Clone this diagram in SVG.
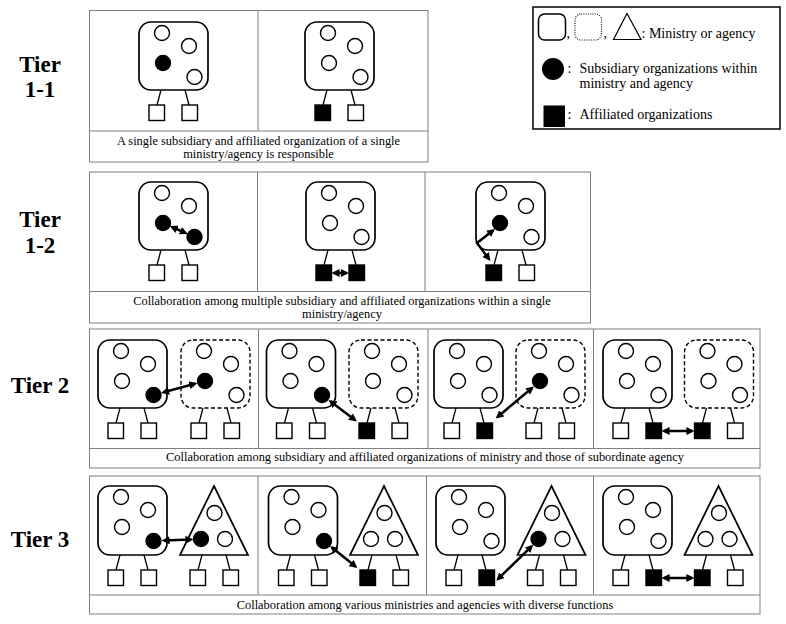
<svg xmlns="http://www.w3.org/2000/svg" width="786" height="624" viewBox="0 0 786 624">
<style>
.frame{fill:none;stroke:#808080;stroke-width:1}
.box{fill:#fff;stroke:#000;stroke-width:1.7}
.dbox{fill:#fff;stroke:#000;stroke-width:1.4;stroke-dasharray:4 2.5}
.tri{fill:#fff;stroke:#000;stroke-width:1.7;stroke-linejoin:miter}
.c{fill:#fff;stroke:#000;stroke-width:1.4}
.f{fill:#000;stroke:#000;stroke-width:1.4}
.sq{fill:#fff;stroke:#000;stroke-width:1.4}
.sqf{fill:#000;stroke:#000;stroke-width:1.4}
.leg{fill:none;stroke:#000;stroke-width:1.3}
.arr{fill:none;stroke:#000;stroke-width:2.5;marker-start:url(#ah);marker-end:url(#ah)}
text{font-family:"Liberation Serif","Times New Roman",serif;fill:#000}
.cap{font-size:12.4px;text-anchor:middle}
.tier{font-size:23px;font-weight:bold;text-anchor:middle}
.lg{font-size:14px}
</style>
<defs>
<marker id="ah" viewBox="0 0 10 10" refX="7" refY="5" markerWidth="8" markerHeight="8" markerUnits="userSpaceOnUse" orient="auto-start-reverse">
<path d="M0,0 L10,5 L0,10 z" fill="#000"/>
</marker>
</defs>
<rect width="786" height="624" fill="#fff"/>

<g id="tier-labels">
<text class="tier" x="40" y="72">Tier</text>
<text class="tier" x="40" y="97">1-1</text>
<text class="tier" x="40" y="227">Tier</text>
<text class="tier" x="40" y="253">1-2</text>
<text class="tier" x="40" y="393">Tier 2</text>
<text class="tier" x="40" y="547">Tier 3</text>
</g>

<g id="frames">
<rect class="frame" x="89.5" y="10.5" width="338.5" height="151.5"/>
<path class="frame" d="M258,10.5 V131 M89.5,131 H428"/>
<rect class="frame" x="89.5" y="172" width="501" height="151"/>
<path class="frame" d="M257.5,172 V291.5 M425,172 V291.5 M89.5,291.5 H590.5"/>
<rect class="frame" x="89.5" y="329" width="670.5" height="139"/>
<path class="frame" d="M258.5,329 V448.5 M428,329 V448.5 M593.5,329 V448.5 M89.5,448.5 H760"/>
<rect class="frame" x="89.5" y="476" width="670.5" height="138"/>
<path class="frame" d="M258,476 V595 M426.5,476 V595 M593.5,476 V595 M89.5,595 H760"/>
</g>

<g id="captions">
<text class="cap" x="258.5" y="145">A single subsidiary and affiliated organization of a single</text>
<text class="cap" x="258.5" y="158">ministry/agency is responsible</text>
<text class="cap" x="342" y="304.5">Collaboration among multiple subsidiary and affiliated organizations within a single</text>
<text class="cap" x="342" y="317.5">ministry/agency</text>
<text class="cap" x="425" y="461">Collaboration among subsidiary and affiliated organizations of ministry and those of subordinate agency</text>
<text class="cap" x="425" y="608.5">Collaboration among various ministries and agencies with diverse functions</text>
</g>

<g id="legend">
<rect x="533" y="7" width="247" height="122" fill="#fff" stroke="#000" stroke-width="1.5"/>
<rect x="538.5" y="14" width="27" height="26" rx="6" fill="#fff" stroke="#000" stroke-width="1.5"/>
<text class="lg" x="566.5" y="38">,</text>
<rect x="575" y="14" width="26.5" height="26" rx="6" fill="#fff" stroke="#000" stroke-width="1.1" stroke-dasharray="1 1.3"/>
<text class="lg" x="603.5" y="38">,</text>
<polygon points="627,13.5 641,39.5 613.5,39.5" fill="#fff" stroke="#000" stroke-width="1.2"/>
<text class="lg" x="641.5" y="37.5">: Ministry or agency</text>
<circle cx="553" cy="69" r="11" fill="#000"/>
<text class="lg" x="567.5" y="73">:</text>
<text class="lg" x="579.5" y="73">Subsidiary organizations within</text>
<text class="lg" x="579.5" y="88">ministry and agency</text>
<rect x="543.5" y="105.5" width="21.5" height="21.5" fill="#000"/>
<text class="lg" x="567.5" y="119">:</text>
<text class="lg" x="579.5" y="119">Affiliated organizations</text>
</g>

<!-- Tier 1-1 -->
<g id="t11-p1-ministry">
<rect class="box" x="139" y="22" width="69" height="68" rx="12"/>
<circle class="c" cx="162" cy="33" r="7.5"/><circle class="c" cx="189" cy="46" r="7.5"/>
<circle class="f" cx="163" cy="63" r="7.5"/><circle class="c" cx="194.5" cy="77" r="7.5"/>
<rect class="sq" x="149" y="105" width="15.5" height="15.5"/><rect class="sq" x="182" y="105" width="15.5" height="15.5"/>
</g>
<g id="t11-p2-ministry">
<rect class="box" x="305" y="22" width="69" height="68" rx="12"/>
<circle class="c" cx="328" cy="33" r="7.5"/><circle class="c" cx="355" cy="46" r="7.5"/>
<circle class="c" cx="329" cy="63" r="7.5"/><circle class="c" cx="360.5" cy="77" r="7.5"/>
<rect class="sqf" x="315" y="105" width="15.5" height="15.5"/><rect class="sq" x="348" y="105" width="15.5" height="15.5"/>
</g>

<!-- Tier 1-2 -->
<g id="t12-p1-ministry">
<rect class="box" x="139" y="182" width="69" height="68" rx="12"/>
<circle class="c" cx="162" cy="193" r="7.5"/><circle class="c" cx="189" cy="206" r="7.5"/>
<circle class="f" cx="163" cy="223" r="7.5"/><circle class="f" cx="194.5" cy="237" r="7.5"/>
<rect class="sq" x="149" y="265" width="15.5" height="15.5"/><rect class="sq" x="182" y="265" width="15.5" height="15.5"/>
</g>
<g id="t12-p2-ministry">
<rect class="box" x="306" y="182" width="69" height="68" rx="12"/>
<circle class="c" cx="329" cy="193" r="7.5"/><circle class="c" cx="356" cy="206" r="7.5"/>
<circle class="c" cx="330" cy="223" r="7.5"/><circle class="c" cx="361.5" cy="237" r="7.5"/>
<rect class="sqf" x="316" y="265" width="15.5" height="15.5"/><rect class="sqf" x="349" y="265" width="15.5" height="15.5"/>
</g>
<g id="t12-p3-ministry">
<rect class="box" x="476" y="182" width="69" height="68" rx="12"/>
<circle class="c" cx="499" cy="193" r="7.5"/><circle class="c" cx="526" cy="206" r="7.5"/>
<circle class="f" cx="500" cy="223" r="7.5"/><circle class="c" cx="531.5" cy="237" r="7.5"/>
<rect class="sqf" x="486" y="265" width="15.5" height="15.5"/><rect class="sq" x="519" y="265" width="15.5" height="15.5"/>
</g>

<!-- Tier 2 -->
<g id="t2-p1-ministry">
<rect class="box" x="98" y="340" width="69" height="68" rx="12"/>
<circle class="c" cx="121" cy="351" r="7.5"/><circle class="c" cx="148" cy="364" r="7.5"/>
<circle class="c" cx="122" cy="381" r="7.5"/><circle class="f" cx="153.5" cy="395" r="7.5"/>
<rect class="sq" x="108" y="423" width="15.5" height="15.5"/><rect class="sq" x="141" y="423" width="15.5" height="15.5"/>
</g>
<g id="t2-p1-agency">
<rect class="dbox" x="181" y="340" width="69" height="68" rx="12"/>
<circle class="c" cx="204" cy="351" r="7.5"/><circle class="c" cx="231" cy="364" r="7.5"/>
<circle class="f" cx="205" cy="381" r="7.5"/><circle class="c" cx="236.5" cy="395" r="7.5"/>
<rect class="sq" x="191" y="423" width="15.5" height="15.5"/><rect class="sq" x="224" y="423" width="15.5" height="15.5"/>
</g>
<g id="t2-p2-ministry">
<rect class="box" x="266.5" y="340" width="69" height="68" rx="12"/>
<circle class="c" cx="289.5" cy="351" r="7.5"/><circle class="c" cx="316.5" cy="364" r="7.5"/>
<circle class="c" cx="290.5" cy="381" r="7.5"/><circle class="f" cx="322" cy="395" r="7.5"/>
<rect class="sq" x="276.5" y="423" width="15.5" height="15.5"/><rect class="sq" x="309.5" y="423" width="15.5" height="15.5"/>
</g>
<g id="t2-p2-agency">
<rect class="dbox" x="349" y="340" width="69" height="68" rx="12"/>
<circle class="c" cx="372" cy="351" r="7.5"/><circle class="c" cx="399" cy="364" r="7.5"/>
<circle class="c" cx="373" cy="381" r="7.5"/><circle class="c" cx="404.5" cy="395" r="7.5"/>
<rect class="sqf" x="359" y="423" width="15.5" height="15.5"/><rect class="sq" x="392" y="423" width="15.5" height="15.5"/>
</g>
<g id="t2-p3-ministry">
<rect class="box" x="434" y="340" width="69" height="68" rx="12"/>
<circle class="c" cx="457" cy="351" r="7.5"/><circle class="c" cx="484" cy="364" r="7.5"/>
<circle class="c" cx="458" cy="381" r="7.5"/><circle class="c" cx="489.5" cy="395" r="7.5"/>
<rect class="sq" x="444" y="423" width="15.5" height="15.5"/><rect class="sqf" x="477" y="423" width="15.5" height="15.5"/>
</g>
<g id="t2-p3-agency">
<rect class="dbox" x="516" y="340" width="69" height="68" rx="12"/>
<circle class="c" cx="539" cy="351" r="7.5"/><circle class="c" cx="566" cy="364" r="7.5"/>
<circle class="f" cx="540" cy="381" r="7.5"/><circle class="c" cx="571.5" cy="395" r="7.5"/>
<rect class="sq" x="526" y="423" width="15.5" height="15.5"/><rect class="sq" x="559" y="423" width="15.5" height="15.5"/>
</g>
<g id="t2-p4-ministry">
<rect class="box" x="603" y="340" width="69" height="68" rx="12"/>
<circle class="c" cx="626" cy="351" r="7.5"/><circle class="c" cx="653" cy="364" r="7.5"/>
<circle class="c" cx="627" cy="381" r="7.5"/><circle class="c" cx="658.5" cy="395" r="7.5"/>
<rect class="sq" x="613" y="423" width="15.5" height="15.5"/><rect class="sqf" x="646" y="423" width="15.5" height="15.5"/>
</g>
<g id="t2-p4-agency">
<rect class="dbox" x="684.5" y="340" width="69" height="68" rx="12"/>
<circle class="c" cx="707.5" cy="351" r="7.5"/><circle class="c" cx="734.5" cy="364" r="7.5"/>
<circle class="c" cx="708.5" cy="381" r="7.5"/><circle class="c" cx="740" cy="395" r="7.5"/>
<rect class="sqf" x="694.5" y="423" width="15.5" height="15.5"/><rect class="sq" x="727.5" y="423" width="15.5" height="15.5"/>
</g>

<!-- Tier 3 -->
<g id="t3-p1-ministry">
<rect class="box" x="98" y="486" width="69" height="69" rx="12"/>
<circle class="c" cx="121" cy="497" r="7.5"/><circle class="c" cx="148" cy="510" r="7.5"/>
<circle class="c" cx="122" cy="527" r="7.5"/><circle class="f" cx="153.5" cy="541" r="7.5"/>
<rect class="sq" x="108" y="570" width="15.5" height="15.5"/><rect class="sq" x="141" y="570" width="15.5" height="15.5"/>
</g>
<g id="t3-p1-agency">
<polygon class="tri" points="214,486 248,555 180,555"/>
<circle class="c" cx="214.5" cy="513" r="7.5"/><circle class="f" cx="201" cy="539" r="7.5"/><circle class="c" cx="225" cy="539" r="7.5"/>
<rect class="sq" x="190" y="570" width="15.5" height="15.5"/><rect class="sq" x="223" y="570" width="15.5" height="15.5"/>
</g>
<g id="t3-p2-ministry">
<rect class="box" x="268.5" y="486" width="69" height="69" rx="12"/>
<circle class="c" cx="291.5" cy="497" r="7.5"/><circle class="c" cx="318.5" cy="510" r="7.5"/>
<circle class="c" cx="292.5" cy="527" r="7.5"/><circle class="f" cx="324" cy="541" r="7.5"/>
<rect class="sq" x="278.5" y="570" width="15.5" height="15.5"/><rect class="sq" x="311.5" y="570" width="15.5" height="15.5"/>
</g>
<g id="t3-p2-agency">
<polygon class="tri" points="384,486 418,555 350,555"/>
<circle class="c" cx="384.5" cy="513" r="7.5"/><circle class="c" cx="371" cy="539" r="7.5"/><circle class="c" cx="395" cy="539" r="7.5"/>
<rect class="sqf" x="360" y="570" width="15.5" height="15.5"/><rect class="sq" x="393" y="570" width="15.5" height="15.5"/>
</g>
<g id="t3-p3-ministry">
<rect class="box" x="436" y="486" width="69" height="69" rx="12"/>
<circle class="c" cx="459" cy="497" r="7.5"/><circle class="c" cx="486" cy="510" r="7.5"/>
<circle class="c" cx="460" cy="527" r="7.5"/><circle class="c" cx="491.5" cy="541" r="7.5"/>
<rect class="sq" x="446" y="570" width="15.5" height="15.5"/><rect class="sqf" x="479" y="570" width="15.5" height="15.5"/>
</g>
<g id="t3-p3-agency">
<polygon class="tri" points="551.5,486 585.5,555 517.5,555"/>
<circle class="c" cx="552" cy="513" r="7.5"/><circle class="f" cx="538.5" cy="539" r="7.5"/><circle class="c" cx="562.5" cy="539" r="7.5"/>
<rect class="sq" x="527.5" y="570" width="15.5" height="15.5"/><rect class="sq" x="560.5" y="570" width="15.5" height="15.5"/>
</g>
<g id="t3-p4-ministry">
<rect class="box" x="603" y="486" width="69" height="69" rx="12"/>
<circle class="c" cx="626" cy="497" r="7.5"/><circle class="c" cx="653" cy="510" r="7.5"/>
<circle class="c" cx="627" cy="527" r="7.5"/><circle class="c" cx="658.5" cy="541" r="7.5"/>
<rect class="sq" x="613" y="570" width="15.5" height="15.5"/><rect class="sqf" x="646" y="570" width="15.5" height="15.5"/>
</g>
<g id="t3-p4-agency">
<polygon class="tri" points="718.5,486 752.5,555 684.5,555"/>
<circle class="c" cx="719" cy="513" r="7.5"/><circle class="c" cx="705.5" cy="539" r="7.5"/><circle class="c" cx="729.5" cy="539" r="7.5"/>
<rect class="sqf" x="694.5" y="570" width="15.5" height="15.5"/><rect class="sq" x="727.5" y="570" width="15.5" height="15.5"/>
</g>

<g id="connectors">
<path class="leg" d="M161,90 L157,105 M185,90 L189,105 M327,90 L323,105 M351,90 L355,105"/>
<path class="leg" d="M161,250 L157,265 M185,250 L189,265 M328,250 L324,265 M352,250 L356,265 M498,250 L494,265 M522,250 L526,265"/>
<path class="leg" d="M120,408 L116,423 M144,408 L148,423 M203,408 L199,423 M227,408 L231,423 M288.5,408 L284.5,423 M312.5,408 L316.5,423 M371,408 L367,423 M395,408 L399,423 M456,408 L452,423 M480,408 L484,423 M538,408 L534,423 M562,408 L566,423 M625,408 L621,423 M649,408 L653,423 M706.5,408 L702.5,423 M730.5,408 L734.5,423"/>
<path class="leg" d="M120,555 L116,570 M144,555 L148,570 M202,555 L198,570 M226,555 L230,570 M290.5,555 L286.5,570 M314.5,555 L318.5,570 M372,555 L368,570 M396,555 L400,570 M458,555 L454,570 M482,555 L486,570 M539.5,555 L535.5,570 M563.5,555 L567.5,570 M625,555 L621,570 M649,555 L653,570 M706.5,555 L702.5,570 M730.5,555 L734.5,570"/>
<path class="arr" d="M172,227 L185.5,233"/>
<path class="arr" d="M334,273 L346.5,273"/>
<path class="arr" d="M493,230.5 L477,243 L489,259"/>
<path class="arr" d="M163.5,392.3 L195,383.7"/>
<path class="arr" d="M330.5,401.5 L355,420"/>
<path class="arr" d="M497.5,417 L532,388"/>
<path class="arr" d="M664,431 L692,431"/>
<path class="arr" d="M164,540.5 L191,539.5"/>
<path class="arr" d="M332,547.5 L355.5,566.5"/>
<path class="arr" d="M498,579 L531.5,546.5"/>
<path class="arr" d="M664,578 L692,578"/>
</g>
</svg>
